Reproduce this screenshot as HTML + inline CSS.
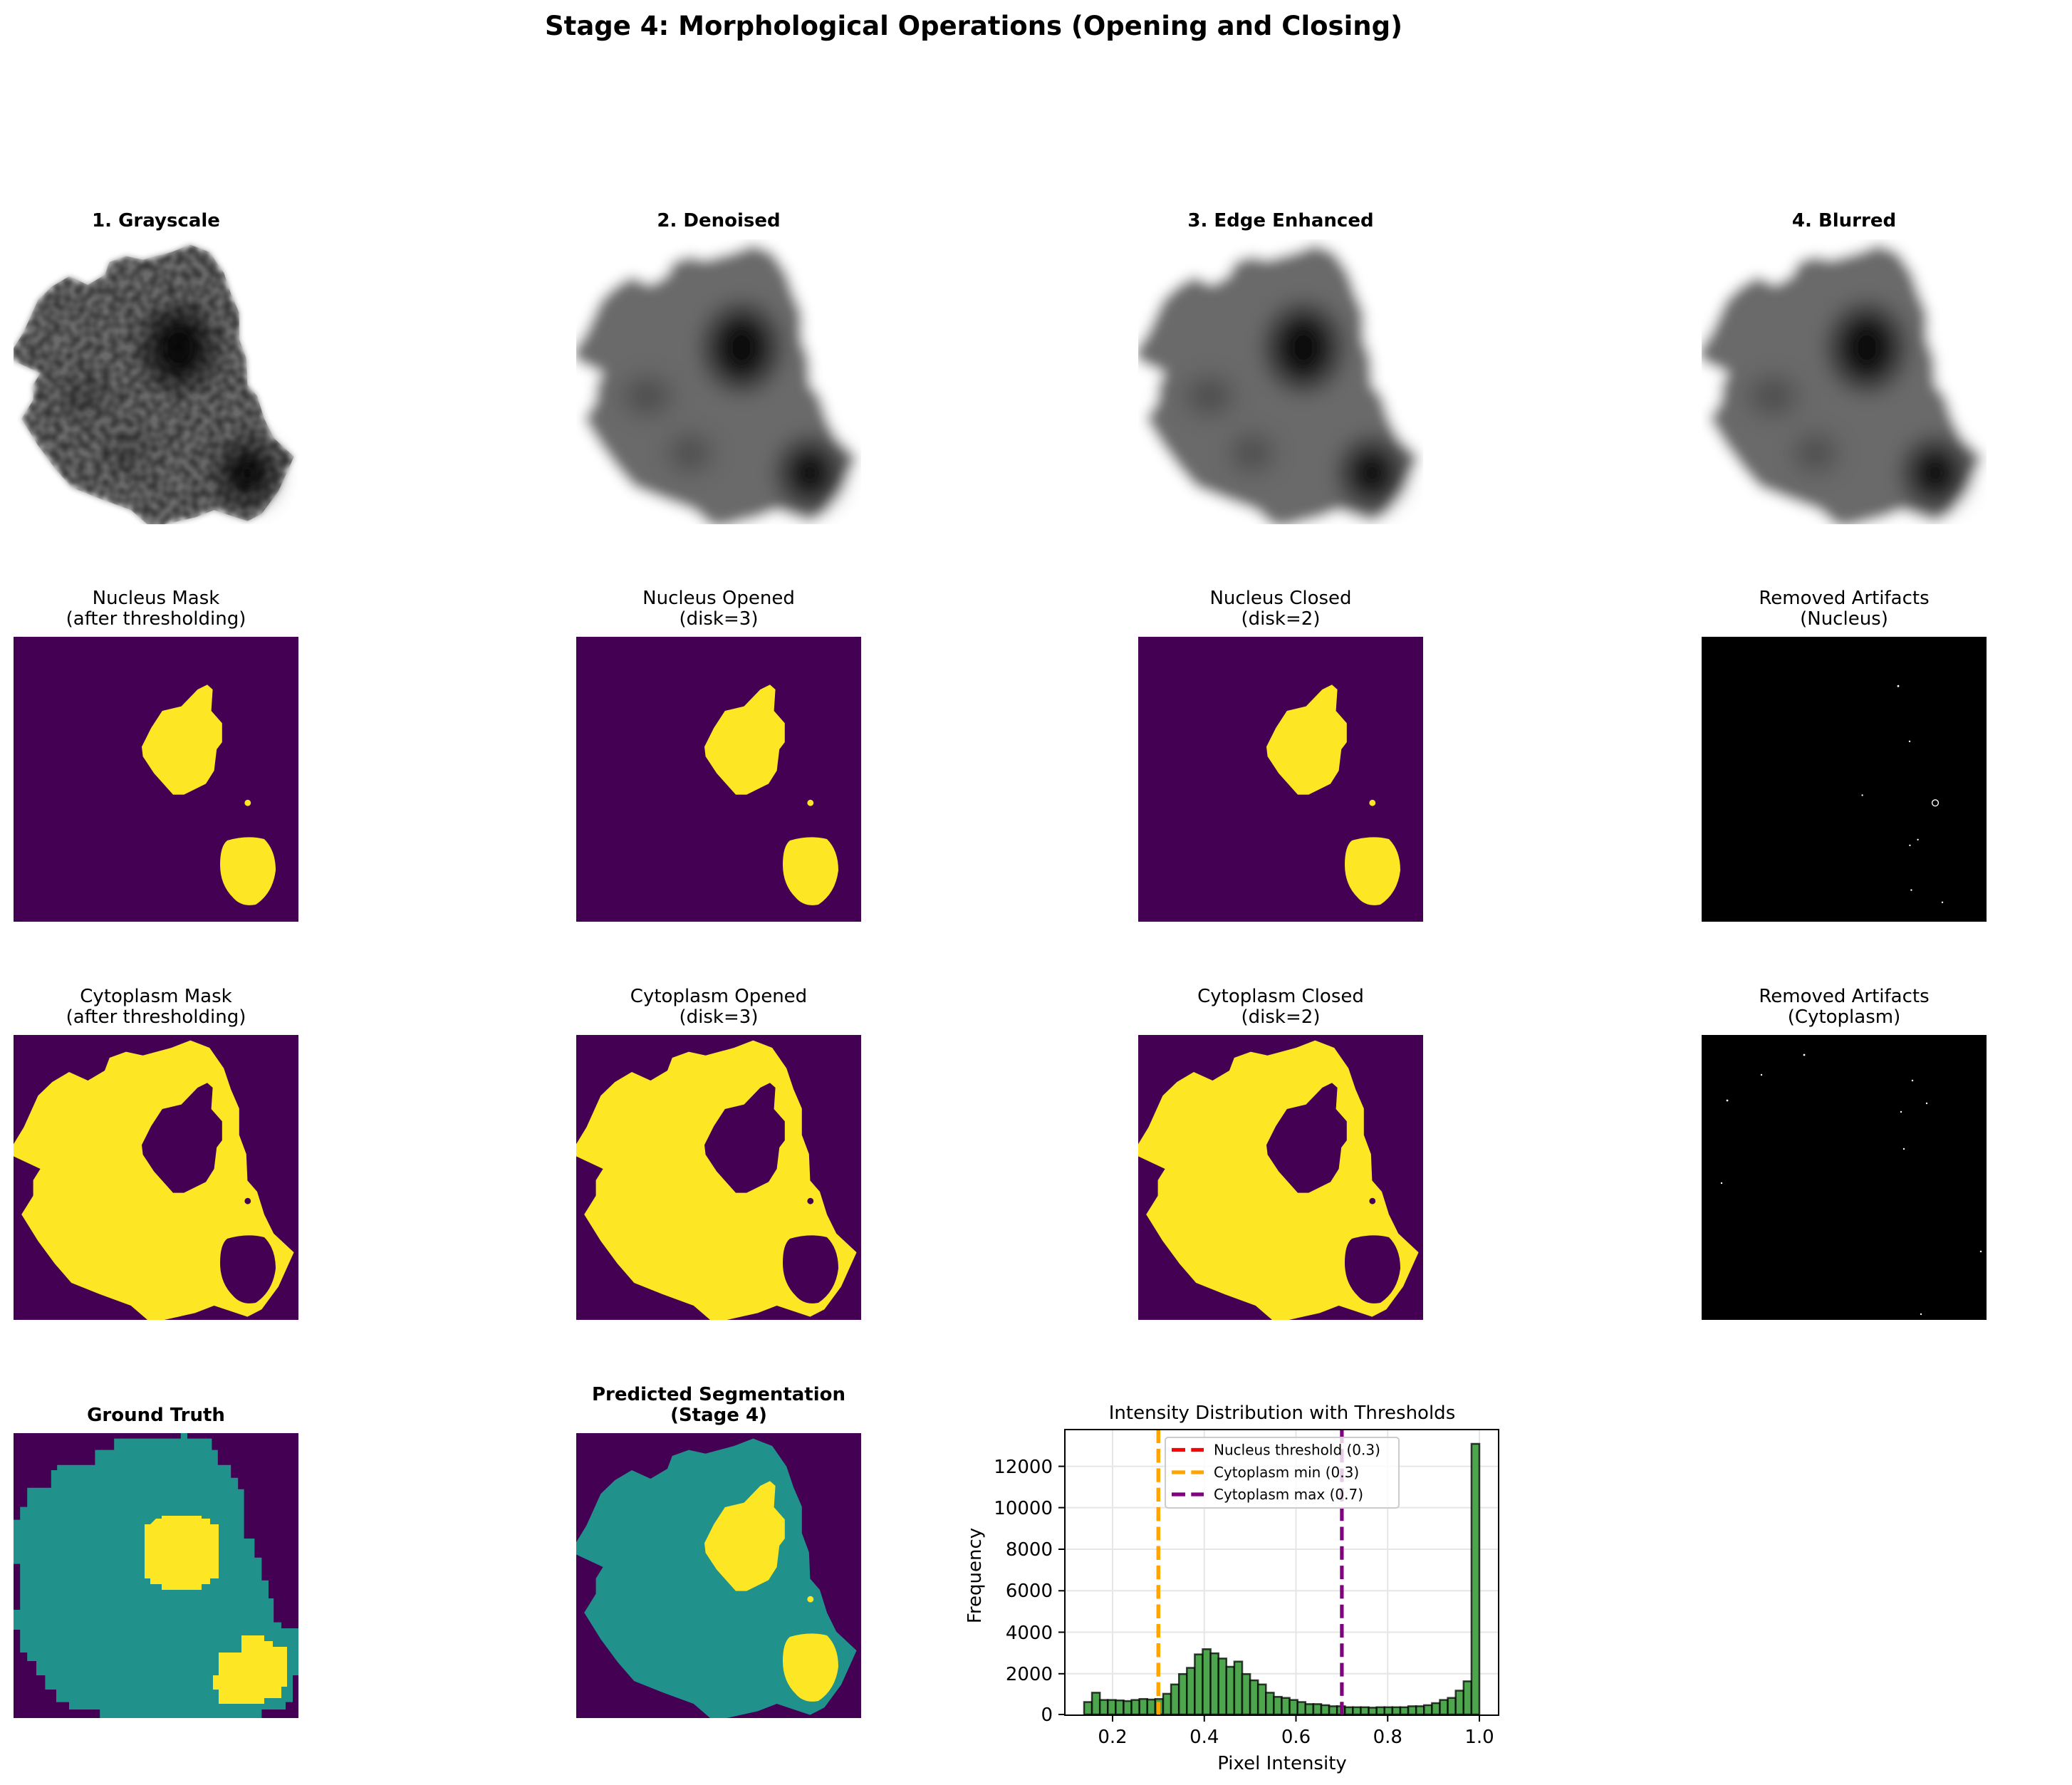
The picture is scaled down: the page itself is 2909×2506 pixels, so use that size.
<!DOCTYPE html>
<html><head><meta charset="utf-8">
<style>
html,body{margin:0;padding:0;background:#fff;}
body{width:2909px;height:2506px;position:relative;overflow:hidden;font-family:"DejaVu Sans","Liberation Sans",sans-serif;color:#000;}
.t{position:absolute;width:600px;text-align:center;font-size:26px;line-height:29px;white-space:nowrap;}
.b{font-weight:bold;}
svg{position:absolute;left:0;top:0;}
</style></head><body>
<svg width="2909" height="2506" viewBox="0 0 2909 2506" xmlns="http://www.w3.org/2000/svg">
<defs>
<path id="nuc1" d="M68,16.8 L69.9,18.5 69.4,26 73.2,30.3 73.2,37 71.3,39.5 70.4,47 67.5,51.6 59.8,55.4 56,55.4 49.3,47.9 45.4,42 45,38.6 48.3,32 52.2,26 58.9,24.4 64.6,18.5 Z"/>
<path id="nuc2" d="M75,71.5 Q82,69.5 88,71 Q92,75 92,82 Q91,90 85,94 Q80,95 77,91.5 Q72.5,87 72.5,80 Q72.5,73.5 75,71.5 Z"/>
<circle id="dot" cx="82.2" cy="58.3" r="1.1"/>
<path id="cyto" d="M0,38.3 L3.6,32.4 8.6,21.3 13.6,16.5 19.5,13 26.1,16 32,12.5 33.7,8 39.5,5.9 45.4,7.2 55.4,4.5 62.1,1.9 68.8,4.5 73.8,11.7 76.3,19.1 79.2,25.8 79.2,35.1 81.7,41.8 82.1,51.1 85.5,55 88,63 91.3,69.7 98.4,76.3 93,88.3 87.1,96.3 82.1,98.9 70.4,95 63.7,97.6 52.9,100 47,100 41.2,95 30.3,91 20.3,87 14.5,80.3 8.6,72.3 2.8,63 6.9,56.4 6.9,51 9.4,47 0,42.6 Z"/>
<filter id="bl1" x="-20%" y="-20%" width="140%" height="140%"><feGaussianBlur stdDeviation="1"/></filter>
<filter id="bl2" x="-20%" y="-20%" width="140%" height="140%"><feGaussianBlur stdDeviation="2.2"/></filter>
<filter id="bl3" x="-30%" y="-30%" width="160%" height="160%"><feGaussianBlur stdDeviation="4"/></filter>
<filter id="noise" x="0" y="0" width="100%" height="100%"><feTurbulence type="fractalNoise" baseFrequency="0.35" numOctaves="1" seed="3"/><feColorMatrix type="matrix" values="0 0 0 0 0  0 0 0 0 0  0 0 0 0 0  0 0 0 0.9 -0.25"/><feComposite in2="SourceGraphic" operator="in"/></filter>
<g id="gray">
<rect width="100" height="100" fill="#fff"/>
<use href="#cyto" fill="#6a6a6a"/>
<g fill="#111" filter="url(#bl3)"><ellipse cx="58" cy="38" rx="11" ry="13"/><ellipse cx="82" cy="82" rx="9" ry="10"/></g>
<g fill="#4a4a4a" filter="url(#bl3)"><ellipse cx="25" cy="55" rx="8" ry="6"/><ellipse cx="40" cy="75" rx="7" ry="6"/></g>
</g>
<g id="cytmask"><rect width="100" height="100" fill="#440154"/><use href="#cyto" fill="#fde725"/><g fill="#440154"><use href="#nuc1"/><use href="#nuc2"/><use href="#dot"/></g></g>
<g id="nucmask"><rect width="100" height="100" fill="#440154"/><g fill="#fde725"><use href="#nuc1"/><use href="#nuc2"/><use href="#dot"/></g></g>
</defs>

<!-- Row 1 -->
<svg x="19" y="336" width="400" height="400" viewBox="0 0 100 100"><g filter="url(#bl1)"><use href="#gray"/></g><use href="#cyto" fill="#000" filter="url(#noise)"/></svg>
<svg x="809" y="336" width="400" height="400" viewBox="0 0 100 100"><g filter="url(#bl2)"><use href="#gray"/></g></svg>
<svg x="1598" y="336" width="400" height="400" viewBox="0 0 100 100"><g filter="url(#bl2)"><use href="#gray"/></g></svg>
<svg x="2389" y="336" width="400" height="400" viewBox="0 0 100 100"><g filter="url(#bl2)"><use href="#gray"/></g></svg>

<!-- Row 2 -->
<svg x="19" y="894" width="400" height="400" viewBox="0 0 100 100"><use href="#nucmask"/></svg>
<svg x="809" y="894" width="400" height="400" viewBox="0 0 100 100"><use href="#nucmask"/></svg>
<svg x="1598" y="894" width="400" height="400" viewBox="0 0 100 100"><use href="#nucmask"/></svg>
<svg x="2389" y="894" width="400" height="400" viewBox="0 0 100 100"><rect width="100" height="100" fill="#000"/>
<g fill="#fff"><circle cx="69" cy="17.3" r="0.35"/><circle cx="73" cy="36.7" r="0.3"/><circle cx="56.4" cy="55.6" r="0.3"/><circle cx="75.9" cy="71.2" r="0.3"/><circle cx="73.1" cy="73.2" r="0.3"/><circle cx="73.6" cy="88.9" r="0.3"/><circle cx="84.5" cy="93.2" r="0.3"/></g>
<circle cx="82" cy="58.3" r="1.1" fill="none" stroke="#fff" stroke-width="0.35"/></svg>

<!-- Row 3 -->
<svg x="19" y="1453" width="400" height="400" viewBox="0 0 100 100"><use href="#cytmask"/></svg>
<svg x="809" y="1453" width="400" height="400" viewBox="0 0 100 100"><use href="#cytmask"/></svg>
<svg x="1598" y="1453" width="400" height="400" viewBox="0 0 100 100"><use href="#cytmask"/></svg>
<svg x="2389" y="1453" width="400" height="400" viewBox="0 0 100 100"><rect width="100" height="100" fill="#000"/>
<g fill="#fff"><circle cx="9" cy="23" r="0.35"/><circle cx="21" cy="14" r="0.3"/><circle cx="36" cy="7" r="0.35"/><circle cx="74" cy="16" r="0.3"/><circle cx="70" cy="27" r="0.3"/><circle cx="79" cy="24" r="0.3"/><circle cx="71" cy="40" r="0.3"/><circle cx="7" cy="52" r="0.3"/><circle cx="98" cy="76" r="0.3"/><circle cx="77" cy="98" r="0.3"/></g></svg>

<!-- Row 4 -->
<svg x="19" y="2012" width="400" height="400" viewBox="0 0 100 100"><rect width="100" height="100" fill="#440154"/>
<path fill="#21918c" d="M0,30.4 L2.3,30.4 2.3,25.9 4.8,25.9 4.8,19.2 13.2,19.2 13.2,13 15.3,13 15.3,11.2 28.6,11.2 28.6,5.9 35.3,5.9 35.3,1.9 58.7,1.9 58.7,0 61,0 61,1.9 69.6,1.9 69.6,5.9 71.7,5.9 71.7,11.2 76.3,11.2 76.3,15.7 78.8,15.7 78.8,19.7 80.9,19.7 80.9,37 84.6,37 84.6,43.7 87.1,43.7 87.1,51.7 89.5,51.7 89.5,58 91.3,58 91.3,66.4 94,66.4 94,68.5 100,68.5 100,85 98,85 98,94.4 95.5,94.4 95.5,97 87.1,97 87.1,100 30.3,100 30.3,97 19.5,97 19.5,94.4 15,94.4 15,90 11.1,90 11.1,85 8,85 8,80 4.8,80 4.8,77 2.3,77 2.3,69 0,69 0,62 2.3,62 2.3,45.9 0,45.9 Z"/>
<path fill="#fde725" d="M48,32 L50,30 52,30 52,29 66,29 66,30 69,30 69,32 72,32 72,51 69,51 69,53 66,53 66,55 52,55 52,53 48,53 48,51 46,51 46,32 Z"/>
<path fill="#fde725" d="M72,78 L72,77 80,77 80,71 88,71 88,73 91,73 91,75 96,75 96,89 94,89 94,93 88,93 88,95 72,95 72,90 70,90 70,85 72,85 Z"/>
</svg>
<svg x="809" y="2012" width="400" height="400" viewBox="0 0 100 100"><rect width="100" height="100" fill="#440154"/><use href="#cyto" fill="#21918c"/><g fill="#fde725"><use href="#nuc1"/><use href="#nuc2"/><use href="#dot"/></g></svg>

<!-- Histogram -->
<g stroke="#e6e6e6" stroke-width="2">
<line x1="1562" y1="2007" x2="1562" y2="2408"/><line x1="1690.75" y1="2007" x2="1690.75" y2="2408"/><line x1="1819.5" y1="2007" x2="1819.5" y2="2408"/><line x1="1948.25" y1="2007" x2="1948.25" y2="2408"/><line x1="2077" y1="2007" x2="2077" y2="2408"/>
<line x1="1495" y1="2349.8" x2="2104" y2="2349.8"/><line x1="1495" y1="2291.5" x2="2104" y2="2291.5"/><line x1="1495" y1="2233.3" x2="2104" y2="2233.3"/><line x1="1495" y1="2175" x2="2104" y2="2175"/><line x1="1495" y1="2116.6" x2="2104" y2="2116.6"/><line x1="1495" y1="2058.6" x2="2104" y2="2058.6"/>
</g>
<g transform="translate(0,2407) scale(1,-1)" fill="rgb(77,166,77)" stroke="rgba(0,0,0,0.75)" stroke-width="2.5">
<rect x="1522" y="0" width="11.1" height="17.5"/><rect x="1533.1" y="0" width="11.1" height="30.6"/><rect x="1544.2" y="0" width="11.1" height="20.4"/><rect x="1555.3" y="0" width="11.1" height="20.4"/><rect x="1566.4" y="0" width="11.1" height="19.8"/><rect x="1577.5" y="0" width="11.1" height="18.9"/><rect x="1588.6" y="0" width="11.1" height="20.4"/><rect x="1599.7" y="0" width="11.1" height="21.8"/><rect x="1610.8" y="0" width="11.1" height="21"/><rect x="1621.9" y="0" width="11.1" height="21.8"/>
<rect x="1633" y="0" width="11.1" height="29.1"/><rect x="1644.1" y="0" width="11.1" height="42.2"/><rect x="1655.2" y="0" width="11.1" height="56.8"/><rect x="1666.3" y="0" width="11.1" height="65.5"/><rect x="1677.4" y="0" width="11.1" height="84.4"/><rect x="1688.5" y="0" width="11.1" height="91.7"/><rect x="1699.6" y="0" width="11.1" height="85.9"/><rect x="1710.7" y="0" width="11.1" height="78.6"/><rect x="1721.8" y="0" width="11.1" height="67"/><rect x="1732.9" y="0" width="11.1" height="74.3"/>
<rect x="1744" y="0" width="11.1" height="56.8"/><rect x="1755.1" y="0" width="11.1" height="48"/><rect x="1766.2" y="0" width="11.1" height="42.2"/><rect x="1777.3" y="0" width="11.1" height="30.6"/><rect x="1788.4" y="0" width="11.1" height="24.8"/><rect x="1799.5" y="0" width="11.1" height="23.3"/><rect x="1810.6" y="0" width="11.1" height="20.4"/><rect x="1821.7" y="0" width="11.1" height="17.5"/><rect x="1832.8" y="0" width="11.1" height="14.6"/><rect x="1843.9" y="0" width="11.1" height="14.6"/>
<rect x="1855" y="0" width="11.1" height="13.1"/><rect x="1866.1" y="0" width="11.1" height="11.6"/><rect x="1877.2" y="0" width="11.1" height="11.6"/><rect x="1888.3" y="0" width="11.1" height="10.2"/><rect x="1899.4" y="0" width="11.1" height="10.2"/><rect x="1910.5" y="0" width="11.1" height="10.2"/><rect x="1921.6" y="0" width="11.1" height="9.6"/><rect x="1932.7" y="0" width="11.1" height="10.2"/><rect x="1943.8" y="0" width="11.1" height="10.2"/><rect x="1954.9" y="0" width="11.1" height="10.2"/>
<rect x="1966" y="0" width="11.1" height="10.2"/><rect x="1977.1" y="0" width="11.1" height="11.6"/><rect x="1988.2" y="0" width="11.1" height="11.6"/><rect x="1999.3" y="0" width="11.1" height="13.1"/><rect x="2010.4" y="0" width="11.1" height="16"/><rect x="2021.5" y="0" width="11.1" height="20.4"/><rect x="2032.6" y="0" width="11.1" height="23.3"/><rect x="2043.7" y="0" width="11.1" height="33.5"/><rect x="2054.8" y="0" width="11.1" height="46.6"/><rect x="2065.9" y="0" width="11.1" height="380"/>
</g>
<g stroke-width="5.2" stroke-dasharray="19 8.3">
<line x1="1626.4" y1="2007" x2="1626.4" y2="2408" stroke="#ff0000"/>
<line x1="1626.4" y1="2007" x2="1626.4" y2="2408" stroke="#ffa500"/>
<line x1="1883.9" y1="2007" x2="1883.9" y2="2408" stroke="#800080"/>
</g>
<rect x="1495" y="2007" width="609" height="401" fill="none" stroke="#000" stroke-width="2"/>
<g stroke="#000" stroke-width="2">
<line x1="1562" y1="2408" x2="1562" y2="2417"/><line x1="1690.75" y1="2408" x2="1690.75" y2="2417"/><line x1="1819.5" y1="2408" x2="1819.5" y2="2417"/><line x1="1948.25" y1="2408" x2="1948.25" y2="2417"/><line x1="2077" y1="2408" x2="2077" y2="2417"/>
<line x1="1486" y1="2407" x2="1495" y2="2407"/><line x1="1486" y1="2349.8" x2="1495" y2="2349.8"/><line x1="1486" y1="2291.5" x2="1495" y2="2291.5"/><line x1="1486" y1="2233.3" x2="1495" y2="2233.3"/><line x1="1486" y1="2175" x2="1495" y2="2175"/><line x1="1486" y1="2116.6" x2="1495" y2="2116.6"/><line x1="1486" y1="2058.6" x2="1495" y2="2058.6"/>
</g>
<g font-family="DejaVu Sans, Liberation Sans, sans-serif" font-size="26" fill="#000">
<g text-anchor="middle"><text x="1562" y="2447">0.2</text><text x="1690.75" y="2447">0.4</text><text x="1819.5" y="2447">0.6</text><text x="1948.25" y="2447">0.8</text><text x="2077" y="2447">1.0</text>
<text x="1800" y="2484">Pixel Intensity</text><text x="1800" y="1992">Intensity Distribution with Thresholds</text></g>
<g text-anchor="end"><text x="1478" y="2416">0</text><text x="1478" y="2359">2000</text><text x="1478" y="2301">4000</text><text x="1478" y="2242">6000</text><text x="1478" y="2184">8000</text><text x="1478" y="2126">10000</text><text x="1478" y="2068">12000</text></g>
<text x="0" y="0" text-anchor="middle" transform="translate(1377,2212) rotate(-90)">Frequency</text>
</g>
<rect x="1636" y="2018" width="328" height="99" rx="4" fill="rgba(255,255,255,0.8)" stroke="#ccc" stroke-width="2"/>
<g stroke-width="5.2" stroke-dasharray="19 8.3"><line x1="1645" y1="2035.5" x2="1690" y2="2035.5" stroke="#ff0000"/><line x1="1645" y1="2067" x2="1690" y2="2067" stroke="#ffa500"/><line x1="1645" y1="2098" x2="1690" y2="2098" stroke="#800080"/></g>
<g font-family="DejaVu Sans, Liberation Sans, sans-serif" font-size="20" fill="#000"><text x="1704" y="2042.5">Nucleus threshold (0.3)</text><text x="1704" y="2074">Cytoplasm min (0.3)</text><text x="1704" y="2105">Cytoplasm max (0.7)</text></g>
</svg>

<div class="t b" style="left:0px;width:2734px;top:14px;font-size:37px;line-height:46px;">Stage 4: Morphological Operations (Opening and Closing)</div>

<div class="t b" style="left:-81px;top:296px;">1. Grayscale</div>
<div class="t b" style="left:709px;top:296px;">2. Denoised</div>
<div class="t b" style="left:1498px;top:296px;">3. Edge Enhanced</div>
<div class="t b" style="left:2289px;top:296px;">4. Blurred</div>

<div class="t" style="left:-81px;top:826px;">Nucleus Mask<br>(after thresholding)</div>
<div class="t" style="left:709px;top:826px;">Nucleus Opened<br>(disk=3)</div>
<div class="t" style="left:1498px;top:826px;">Nucleus Closed<br>(disk=2)</div>
<div class="t" style="left:2289px;top:826px;">Removed Artifacts<br>(Nucleus)</div>

<div class="t" style="left:-81px;top:1385px;">Cytoplasm Mask<br>(after thresholding)</div>
<div class="t" style="left:709px;top:1385px;">Cytoplasm Opened<br>(disk=3)</div>
<div class="t" style="left:1498px;top:1385px;">Cytoplasm Closed<br>(disk=2)</div>
<div class="t" style="left:2289px;top:1385px;">Removed Artifacts<br>(Cytoplasm)</div>

<div class="t b" style="left:-81px;top:1973px;">Ground Truth</div>
<div class="t b" style="left:709px;top:1944px;">Predicted Segmentation<br>(Stage 4)</div>
</body></html>
